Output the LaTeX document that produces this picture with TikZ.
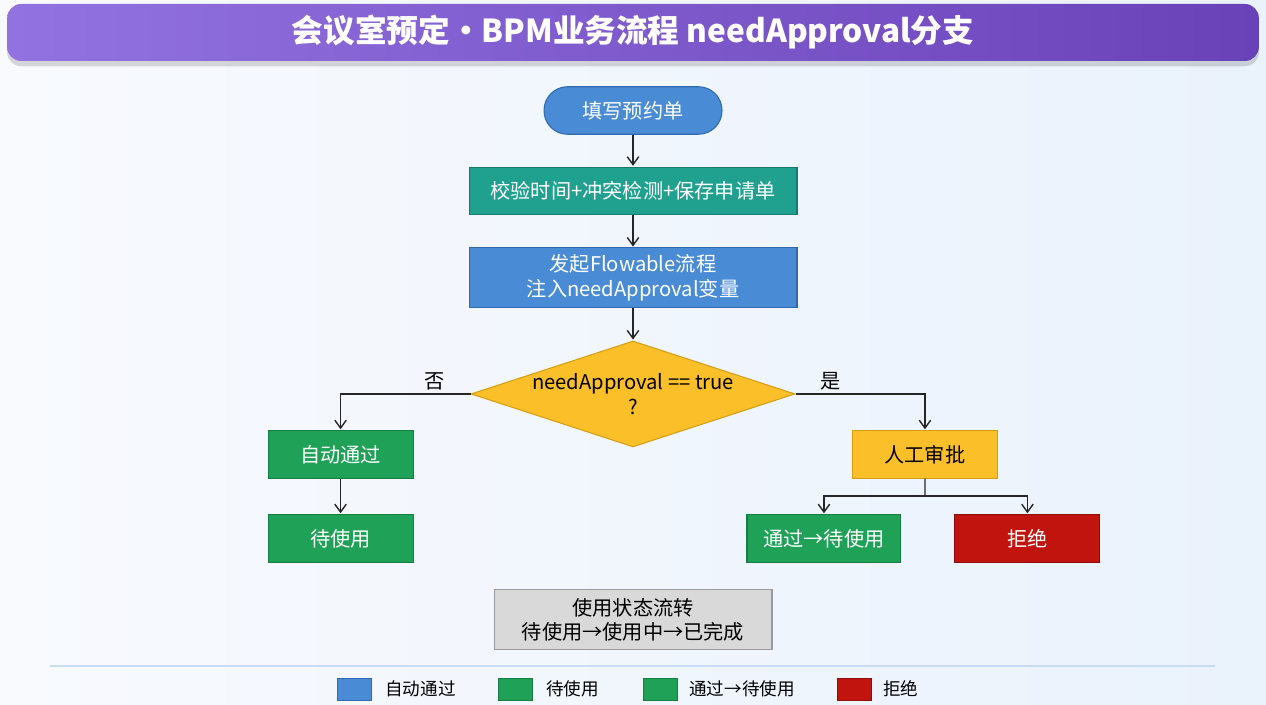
\documentclass[tikz,border=0pt]{standalone}
\usepackage{fontspec}
\setmainfont{Noto Sans CJK SC}
\usetikzlibrary{positioning,shapes.geometric,shadows,arrows.meta}

\definecolor{bgleft}{HTML}{F8FAFE}
\definecolor{bgright}{HTML}{EAF2FC}
\definecolor{titleleft}{HTML}{9272E0}
\definecolor{titleright}{HTML}{6A42B8}
\definecolor{cblue}{HTML}{4A8BD6}
\definecolor{cblued}{HTML}{2F6AB0}
\definecolor{cteal}{HTML}{20A08E}
\definecolor{cteald}{HTML}{177A6C}
\definecolor{cgreen}{HTML}{1FA257}
\definecolor{cgreend}{HTML}{167D42}
\definecolor{camber}{HTML}{FBBF2A}
\definecolor{camberd}{HTML}{D49E12}
\definecolor{cred}{HTML}{C2140E}
\definecolor{credd}{HTML}{8C0E09}
\definecolor{cgray}{HTML}{D9D9D9}
\definecolor{cgrayd}{HTML}{9A9A9A}
\definecolor{cline}{HTML}{C9DCF1}

\tikzset{
  box/.style={rectangle, draw, line width=0.6pt, minimum height=0.95cm, align=center,
    font=\fontsize{11.5}{14}\selectfont},
  startbox/.style={box, rounded corners=0.47cm, fill=cblue, draw=cblued, text=white, minimum width=3.56cm},
  tealbox/.style={box, fill=cteal, draw=cteald, text=white, minimum width=6.56cm},
  bluebox/.style={box, fill=cblue, draw=cblued, text=white, minimum width=6.56cm, minimum height=1.2cm},
  greenbox/.style={box, fill=cgreen, draw=cgreend, text=white, minimum width=2.9cm},
  amberbox/.style={box, fill=camber, draw=camberd, text=black, minimum width=2.9cm},
  redbox/.style={box, fill=cred, draw=credd, text=white, minimum width=2.9cm},
  graybox/.style={box, fill=cgray, draw=cgrayd, text=black, minimum width=5.56cm, minimum height=1.2cm},
  decision/.style={diamond, draw=camberd, fill=camber, line width=0.6pt, inner sep=0pt,
    minimum width=6.48cm, minimum height=2.12cm},
  dectext/.style={align=center, font=\fontsize{11.5}{14}\selectfont},
  wire/.style={line width=0.8pt, draw=black!85},
  flow/.style={wire, -{Straight Barb[length=4.5pt,width=6.5pt]}},
  branch/.style={font=\fontsize{11.5}{14}\selectfont, inner sep=2pt},
  legbox/.style={rectangle, draw, line width=0.4pt, minimum width=0.68cm, minimum height=0.44cm, inner sep=0pt},
  legtext/.style={anchor=west, inner sep=0pt, font=\fontsize{10}{12}\selectfont},
  sepline/.style={draw=cline, line width=0.8pt},
}

\begin{document}
\begin{tikzpicture}[x=0.02cm, y=-0.02cm, node distance=2cm, on grid, shorten >=0.5pt]

% background
\shade[left color=bgleft, right color=bgright] (0,0) rectangle (1266,705);

% title
\node[rectangle, rounded corners=8pt, minimum width=25.04cm, minimum height=1.14cm,
  left color=titleleft, right color=titleright, text=white,
  drop shadow={shadow xshift=0pt, shadow yshift=-3pt, opacity=0.3},
  font=\fontsize{18}{22}\selectfont\bfseries] (title) at (633,32.5)
  {会议室预定・BPM业务流程 needApproval分支};

% main column
\node[startbox] (fill) at (633,110.5) {填写预约单};
\node[tealbox] (check) [below=1.61cm of fill] {校验时间+冲突检测+保存申请单};
\node[bluebox] (start) [below=1.74cm of check] {发起Flowable流程\\注入needApproval变量};
\node[decision] (dec) [below=2.32cm of start] {};
\node[dectext] (dectxt) at (dec) {needApproval == true\\?};

% branches
\node[greenbox] (auto) [below left=1.21cm and 5.85cm of dec] {自动通过};
\node[greenbox] (wait) [below=1.68cm of auto] {待使用};
\node[amberbox] (manual) [below right=1.21cm and 5.84cm of dec] {人工审批};
\node[greenbox, minimum width=3.08cm] (pass) [below left=1.68cm and 2.02cm of manual] {通过→待使用};
\node[redbox] (reject) [below right=1.68cm and 2.05cm of manual] {拒绝};
\coordinate (split) at (925,496);

% usage states
\node[graybox] (usage) [below=4.52cm of dec] {使用状态流转\\待使用→使用中→已完成};

\draw[flow] (fill) -- (check);
\draw[flow] (check) -- (start);
\draw[flow] (start) -- (dec);
\draw[flow] (dec.west) -| node[branch, pos=0.14, above] (no) {否} (auto.north);
\draw[flow] (dec.east) -| node[branch, pos=0.135, above] (yes) {是} (manual.north);
\draw[flow] (auto) -- (wait);
\draw[wire] (manual.south) -- (split);
\draw[flow] (split) -| (pass.north);
\draw[flow] (split) -| (reject.north);

% legend
\draw[sepline] (50,666) -- (1216,666);
\node[legbox, fill=cblue, draw=cblued] (lg1) at (354,689) {};
\node[legtext] (lg1t) at (385,689) {自动通过};
\node[legbox, fill=cgreen, draw=cgreend] (lg2) at (515.5,689) {};
\node[legtext] (lg2t) at (546,689) {待使用};
\node[legbox, fill=cgreen, draw=cgreend] (lg3) at (660,689) {};
\node[legtext] (lg3t) at (689,689) {通过→待使用};
\node[legbox, fill=cred, draw=credd] (lg4) at (854,689) {};
\node[legtext] (lg4t) at (883,689) {拒绝};

\end{tikzpicture}
\end{document}
